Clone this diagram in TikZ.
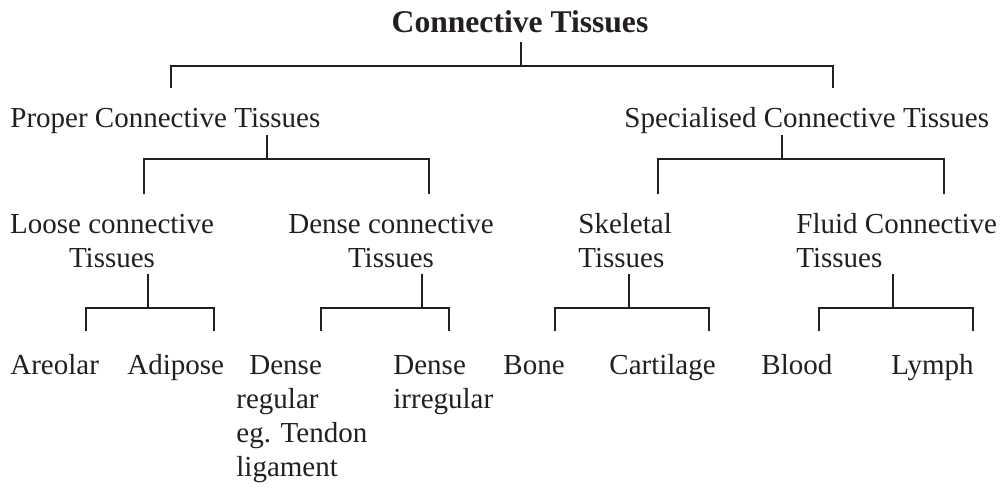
\documentclass[tikz,border=0pt]{standalone}
\usepackage{fontspec}
\setmainfont{Liberation Serif}
\definecolor{ink}{RGB}{35,31,32}
\begin{document}
\begin{tikzpicture}[x=0.5pt,y=-0.5pt,line join=miter,line cap=rect,font=\fontsize{14.5}{17}\selectfont,text=ink]
	\useasboundingbox (0,0) rectangle (1004,493);
	\tikzset{link/.style={draw=ink,line width=1.3pt},
		lab/.style={inner sep=0pt,anchor=base west,align=left},
		labc/.style={inner sep=0pt,anchor=base,align=center}}
	%%%Ten cac nhom
	\node[labc,font=\fontsize{15.8}{19}\selectfont\bfseries] (root) at (520,32) {Connective Tissues};
	\node[lab] (proper) at (10,127) {Proper Connective Tissues};
	\node[lab] (special) at (624,127) {Specialised Connective Tissues};
	\node[labc] (loose) at (112,267) {Loose connective\\Tissues};
	\node[labc] (dense) at (391,267) {Dense connective\\Tissues};
	\node[lab] (skel) at (578,267) {Skeletal\\Tissues};
	\node[lab] (fluid) at (796,267) {Fluid Connective\\Tissues};
	%%%Hang cuoi
	\foreach \n/\x/\t in {areolar/10/Areolar,adipose/127/Adipose,bone/503/Bone,cart/609/Cartilage,blood/761/Blood,lymph/891/Lymph}
	\node[lab] (\n) at (\x,374) {\t};
	\node[lab] (dirr) at (393,408) {Dense\\irregular};
	\node[lab] (dreg) at (236,476) {\hspace*{6.5pt}Dense\\regular\\eg. Tendon\\ligament};
	%%%Diem noi
	\foreach \n/\x/\y in {root-up/521/43,root-bar/521/66,proper-in/171/87,special-in/833/87,
		proper-up/267/136,proper-bar/267/159,loose-in/144/193,dense-in/429/193,
		special-up/782/136,special-bar/782/159,skel-in/658/193,fluid-in/944/193,
		loose-up/148/275,loose-bar/148/308,areolar-in/86/330,adipose-in/214/330,
		dense-up/422/275,dense-bar/422/308,dreg-in/321/330,dirr-in/449/330,
		skel-up/629/275,skel-bar/629/308,bone-in/555/330,cart-in/709/330,
		fluid-up/893/275,fluid-bar/893/308,blood-in/819/330,lymph-in/973/330}
	\coordinate (\n) at (\x,\y);
	\foreach \p/\a/\b in {root/proper/special,proper/loose/dense,special/skel/fluid,loose/areolar/adipose,dense/dreg/dirr,skel/bone/cart,fluid/blood/lymph}
	\draw[link] (\p-up)--(\p-bar) (\a-in)|-(\p-bar)-|(\b-in);
\end{tikzpicture}
\end{document}
